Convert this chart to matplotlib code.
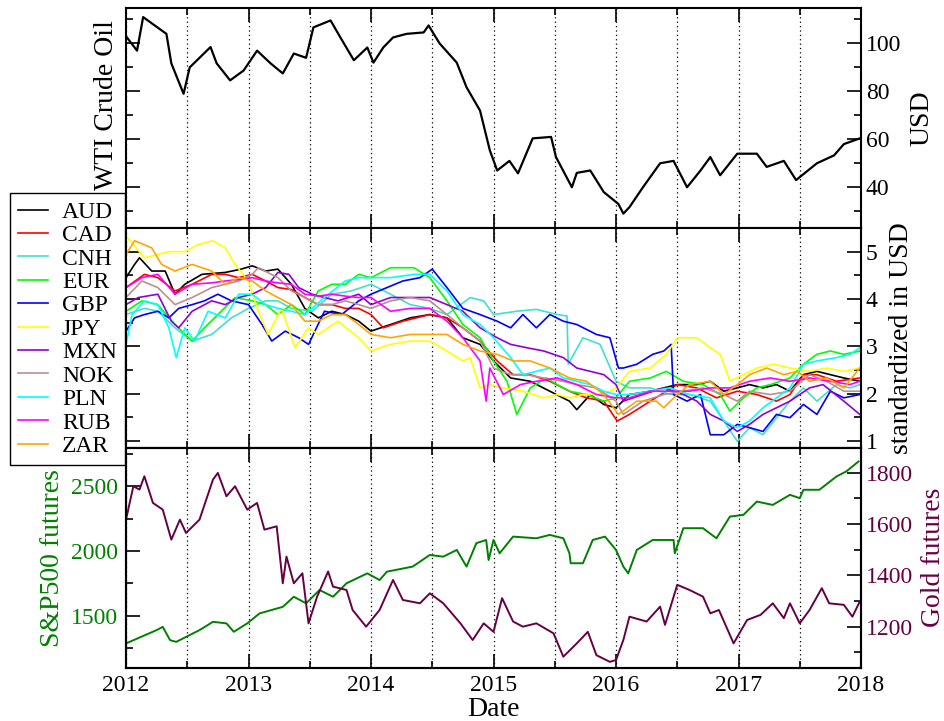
import matplotlib
matplotlib.use("Agg")
import matplotlib.pyplot as plt
from matplotlib.ticker import MultipleLocator


# =========================
# DATA (decimal years)
# =========================
oil_t = [2012.00, 2012.09, 2012.14, 2012.33, 2012.37, 2012.47, 2012.52, 2012.69, 2012.74, 2012.85,
         2012.96, 2013.07, 2013.18, 2013.28, 2013.37, 2013.47, 2013.53, 2013.67, 2013.75, 2013.86,
         2013.97, 2014.02, 2014.10, 2014.18, 2014.29, 2014.43, 2014.47, 2014.56, 2014.70, 2014.78,
         2014.89, 2014.97, 2015.03, 2015.13, 2015.20, 2015.32, 2015.47, 2015.51, 2015.64, 2015.68,
         2015.79, 2015.90, 2016.02, 2016.06, 2016.11, 2016.22, 2016.36, 2016.47, 2016.58, 2016.69,
         2016.77, 2016.85, 2016.99, 2017.15, 2017.23, 2017.37, 2017.47, 2017.64, 2017.78, 2017.86,
         2017.99]
oil_v = [103, 97, 111, 104, 91.7, 79, 90, 98.5, 91.7, 84.6,
         88.7, 97, 91.7, 87.5, 95.8, 94, 106.7, 109.6, 102.5, 93,
         98.3, 92, 98.3, 102.5, 104, 104.6, 107.5, 100, 92, 81.7,
         72, 55.4, 47, 51, 45.8, 60.4, 61, 52.6, 40, 46,
         47, 38, 33, 29, 31.7, 40, 50, 51, 40, 47,
         52.6, 45, 54, 54, 48.5, 51, 43, 50, 53.3, 58,
         60.4]

sp_t = [2012.00, 2012.25, 2012.30, 2012.36, 2012.41, 2012.60, 2012.71, 2012.82, 2012.88, 2012.99,
        2013.09, 2013.28, 2013.37, 2013.47, 2013.58, 2013.69, 2013.80, 2013.97, 2014.07, 2014.13,
        2014.34, 2014.48, 2014.59, 2014.70, 2014.78, 2014.86, 2014.94, 2014.96, 2015.00, 2015.05,
        2015.16, 2015.35, 2015.46, 2015.57, 2015.62, 2015.63, 2015.73, 2015.81, 2015.91, 2016.00,
        2016.06, 2016.10, 2016.17, 2016.30, 2016.47, 2016.48, 2016.55, 2016.71, 2016.82, 2016.93,
        2017.04, 2017.15, 2017.28, 2017.42, 2017.50, 2017.53, 2017.66, 2017.80, 2017.88, 2017.98]
sp_v = [1285, 1388, 1413, 1310, 1297, 1388, 1452, 1440, 1375, 1440,
        1517, 1568, 1646, 1595, 1698, 1646, 1750, 1827, 1775, 1840,
        1879, 1969, 1956, 2008, 1879, 2060, 2085, 1930, 2085, 1982,
        2111, 2098, 2124, 2098, 1982, 1905, 1905, 2085, 2111, 2008,
        1879, 1827, 2008, 2085, 2085, 1982, 2176, 2176, 2098, 2266,
        2279, 2382, 2356, 2434, 2408, 2473, 2473, 2576, 2615, 2692]

gold_t = [2012.00, 2012.06, 2012.11, 2012.15, 2012.22, 2012.30, 2012.37, 2012.44, 2012.49, 2012.60,
          2012.71, 2012.75, 2012.82, 2012.89, 2012.99, 2013.07, 2013.13, 2013.23, 2013.28, 2013.31,
          2013.37, 2013.44, 2013.49, 2013.56, 2013.65, 2013.69, 2013.80, 2013.85, 2013.96, 2014.07,
          2014.18, 2014.26, 2014.40, 2014.48, 2014.59, 2014.73, 2014.83, 2014.92, 2015.00, 2015.07,
          2015.16, 2015.24, 2015.35, 2015.49, 2015.57, 2015.68, 2015.77, 2015.84, 2015.95, 2016.00,
          2016.06, 2016.11, 2016.25, 2016.36, 2016.40, 2016.50, 2016.60, 2016.71, 2016.77, 2016.84,
          2016.96, 2017.07, 2017.18, 2017.28, 2017.37, 2017.42, 2017.50, 2017.58, 2017.68, 2017.74,
          2017.86, 2017.93, 2017.99]
gold_v = [1617, 1747, 1734, 1786, 1682, 1656, 1539, 1617, 1565, 1617,
          1773, 1799, 1708, 1747, 1656, 1682, 1578, 1591, 1369, 1473,
          1369, 1408, 1213, 1317, 1415, 1356, 1343, 1265, 1200, 1265,
          1382, 1304, 1291, 1330, 1291, 1213, 1148, 1213, 1180, 1311,
          1220, 1200, 1213, 1174, 1083, 1135, 1180, 1089, 1063, 1070,
          1148, 1239, 1220, 1278, 1207, 1363, 1343, 1317, 1252, 1265,
          1135, 1226, 1246, 1291, 1233, 1291, 1213, 1265, 1350, 1291,
          1285, 1239, 1298]

# currencies, standardized in USD
aud_t = [2012.00, 2012.07, 2012.11, 2012.21, 2012.32, 2012.40, 2012.48, 2012.62, 2012.81, 2012.94,
         2013.03, 2013.14, 2013.24, 2013.35, 2013.46, 2013.57, 2013.68, 2013.79, 2013.90, 2014.00,
         2014.16, 2014.32, 2014.48, 2014.62, 2014.75, 2014.89, 2015.00, 2015.14, 2015.30, 2015.46,
         2015.62, 2015.68, 2015.79, 2015.90, 2016.00, 2016.11, 2016.28, 2016.50, 2016.66, 2016.77,
         2016.88, 2016.99, 2017.09, 2017.20, 2017.31, 2017.42, 2017.53, 2017.64, 2017.75, 2017.86,
         2017.99]
aud_v = [4.45, 4.73, 4.87, 4.59, 4.59, 4.10, 4.31, 4.52, 4.56, 4.63,
         4.70, 4.59, 4.63, 4.31, 3.80, 3.60, 3.74, 3.67, 3.53, 3.32,
         3.46, 3.60, 3.67, 3.60, 3.18, 3.04, 2.69, 2.33, 2.26, 2.05,
         1.84, 1.66, 1.98, 1.77, 1.70, 1.98, 2.05, 2.19, 2.19, 2.26,
         2.05, 2.12, 2.19, 2.12, 2.19, 2.05, 2.40, 2.47, 2.40, 2.33,
         2.26]

cad_t = [2012.00, 2012.15, 2012.26, 2012.40, 2012.54, 2012.70, 2012.81, 2012.92, 2013.03, 2013.14,
         2013.24, 2013.35, 2013.46, 2013.57, 2013.68, 2013.79, 2013.90, 2014.00, 2014.10, 2014.26,
         2014.48, 2014.62, 2014.75, 2014.89, 2015.03, 2015.16, 2015.30, 2015.46, 2015.62, 2015.76,
         2015.90, 2016.01, 2016.11, 2016.28, 2016.50, 2016.66, 2016.82, 2016.99, 2017.15, 2017.31,
         2017.42, 2017.53, 2017.64, 2017.80, 2017.99]
cad_v = [4.24, 4.52, 4.45, 4.17, 4.31, 4.52, 4.52, 4.45, 4.52, 4.38,
         4.24, 4.20, 4.03, 3.88, 3.88, 3.80, 3.80, 3.67, 3.39, 3.53,
         3.67, 3.60, 3.39, 3.11, 2.69, 2.40, 2.40, 2.26, 2.05, 1.91,
         1.84, 1.42, 1.56, 1.84, 2.19, 2.12, 1.91, 2.05, 1.98, 1.84,
         1.98, 2.40, 2.40, 2.26, 2.33]

cnh_t = [2012.00, 2012.15, 2012.26, 2012.40, 2012.54, 2012.70, 2012.86, 2013.00, 2013.14, 2013.24,
         2013.35, 2013.52, 2013.68, 2013.84, 2014.00, 2014.16, 2014.32, 2014.48, 2014.62, 2014.81,
         2014.92, 2015.00, 2015.19, 2015.35, 2015.52, 2015.60, 2015.61, 2015.73, 2015.87, 2016.00,
         2016.11, 2016.28, 2016.44, 2016.60, 2016.77, 2016.88, 2016.99, 2017.09, 2017.20, 2017.31,
         2017.42, 2017.53, 2017.64, 2017.80, 2017.91, 2017.99]
cnh_v = [3.67, 3.80, 3.74, 3.39, 3.11, 3.25, 3.60, 3.80, 3.96, 3.96,
         3.80, 3.74, 4.10, 4.17, 4.31, 4.10, 3.88, 3.80, 3.67, 4.03,
         3.96, 3.67, 3.74, 3.78, 3.67, 3.64, 2.62, 3.18, 3.04, 2.26,
         2.12, 2.12, 1.98, 1.98, 1.84, 1.42, 0.99, 1.28, 1.13, 1.49,
         1.84, 2.12, 1.84, 2.19, 2.12, 2.19]

eur_t = [2012.00, 2012.13, 2012.26, 2012.40, 2012.54, 2012.64, 2012.75, 2012.89, 2013.03, 2013.14,
         2013.24, 2013.35, 2013.46, 2013.57, 2013.68, 2013.79, 2013.90, 2014.00, 2014.16, 2014.35,
         2014.48, 2014.62, 2014.75, 2014.89, 2015.00, 2015.11, 2015.19, 2015.30, 2015.43, 2015.52,
         2015.62, 2015.76, 2015.90, 2016.00, 2016.11, 2016.28, 2016.41, 2016.55, 2016.71, 2016.85,
         2016.93, 2017.04, 2017.15, 2017.26, 2017.42, 2017.53, 2017.64, 2017.75, 2017.86, 2017.99]
eur_v = [3.74, 3.96, 3.88, 3.46, 3.11, 3.39, 3.67, 4.03, 3.96, 3.88,
         3.67, 3.88, 3.67, 4.17, 4.31, 4.31, 4.52, 4.45, 4.66, 4.66,
         4.45, 3.96, 3.46, 3.18, 2.69, 2.26, 1.56, 2.12, 2.33, 2.19,
         2.05, 1.98, 1.84, 1.91, 2.26, 2.33, 2.47, 2.26, 2.19, 1.98,
         1.63, 1.91, 2.12, 2.19, 2.33, 2.62, 2.83, 2.90, 2.83, 2.90]

gbp_t = [2012.00, 2012.07, 2012.15, 2012.26, 2012.35, 2012.43, 2012.54, 2012.64, 2012.75, 2012.86,
         2013.00, 2013.11, 2013.19, 2013.30, 2013.41, 2013.49, 2013.62, 2013.76, 2013.90, 2014.00,
         2014.13, 2014.26, 2014.40, 2014.50, 2014.62, 2014.75, 2014.89, 2015.03, 2015.14, 2015.24,
         2015.35, 2015.46, 2015.57, 2015.68, 2015.84, 2015.95, 2016.02, 2016.06, 2016.17, 2016.30,
         2016.39, 2016.45, 2016.47, 2016.58, 2016.69, 2016.77, 2016.88, 2016.99, 2017.09, 2017.20,
         2017.31, 2017.42, 2017.53, 2017.64, 2017.75, 2017.86, 2017.99]
gbp_v = [3.32, 3.60, 3.67, 3.74, 3.60, 3.80, 3.88, 3.96, 4.10, 3.96,
         3.88, 3.46, 3.11, 3.32, 3.18, 3.04, 3.74, 3.67, 3.96, 4.10,
         4.24, 4.38, 4.45, 4.63, 4.24, 3.80, 3.67, 3.53, 3.39, 3.67,
         3.39, 3.67, 3.53, 3.46, 3.25, 3.18, 2.54, 2.54, 2.62, 2.83,
         2.90, 3.04, 1.98, 1.84, 1.98, 1.13, 1.13, 1.35, 1.28, 1.20,
         1.56, 1.49, 1.77, 1.56, 2.05, 1.91, 1.98]

jpy_t = [2012.00, 2012.15, 2012.35, 2012.48, 2012.59, 2012.71, 2012.81, 2012.89, 2013.00, 2013.08,
         2013.16, 2013.27, 2013.38, 2013.49, 2013.57, 2013.73, 2013.90, 2014.00, 2014.16, 2014.32,
         2014.48, 2014.62, 2014.75, 2014.81, 2014.89, 2014.97, 2015.08, 2015.24, 2015.41, 2015.52,
         2015.62, 2015.73, 2015.90, 2016.00, 2016.11, 2016.28, 2016.41, 2016.50, 2016.66, 2016.77,
         2016.85, 2016.93, 2017.04, 2017.15, 2017.29, 2017.42, 2017.58, 2017.72, 2017.86, 2017.99]
jpy_v = [5.33, 4.87, 5.00, 5.00, 5.15, 5.23, 5.08, 4.73, 4.38, 3.74,
         3.25, 3.80, 2.97, 3.39, 3.25, 3.53, 3.18, 2.90, 3.04, 3.11,
         3.11, 2.90, 2.69, 2.76, 2.12, 2.19, 2.12, 2.05, 1.91, 1.98,
         1.91, 1.98, 1.98, 2.12, 2.47, 2.54, 2.83, 3.18, 3.18, 2.97,
         2.83, 2.26, 2.40, 2.54, 2.62, 2.54, 2.47, 2.54, 2.47, 2.54]

mxn_t = [2012.00, 2012.10, 2012.26, 2012.37, 2012.43, 2012.54, 2012.70, 2012.81, 2012.92, 2013.03,
         2013.14, 2013.24, 2013.33, 2013.41, 2013.52, 2013.62, 2013.73, 2013.90, 2014.00, 2014.16,
         2014.32, 2014.48, 2014.62, 2014.75, 2014.89, 2015.03, 2015.14, 2015.27, 2015.41, 2015.57,
         2015.68, 2015.79, 2015.90, 2016.00, 2016.06, 2016.22, 2016.39, 2016.55, 2016.66, 2016.77,
         2016.88, 2016.99, 2017.09, 2017.20, 2017.31, 2017.42, 2017.58, 2017.69, 2017.86, 2017.99]
mxn_v = [3.88, 4.03, 4.10, 3.53, 3.39, 3.74, 3.96, 3.88, 4.03, 4.10,
         4.24, 4.56, 4.52, 4.24, 4.10, 4.03, 3.96, 4.10, 3.88, 4.03,
         4.03, 4.03, 3.88, 3.74, 3.39, 3.18, 3.04, 2.97, 2.90, 2.76,
         2.54, 2.47, 2.40, 2.19, 1.84, 1.98, 2.12, 1.98, 1.84, 1.56,
         1.42, 1.20, 1.35, 1.56, 1.70, 1.84, 2.12, 2.19, 1.84, 1.56]

nok_t = [2012.00, 2012.13, 2012.26, 2012.40, 2012.54, 2012.70, 2012.81, 2012.92, 2013.03, 2013.08,
         2013.24, 2013.35, 2013.46, 2013.57, 2013.68, 2013.79, 2013.90, 2014.00, 2014.16, 2014.32,
         2014.48, 2014.62, 2014.75, 2014.89, 2015.00, 2015.14, 2015.27, 2015.41, 2015.57, 2015.68,
         2015.84, 2016.00, 2016.06, 2016.22, 2016.39, 2016.55, 2016.71, 2016.88, 2016.99, 2017.09,
         2017.26, 2017.42, 2017.58, 2017.72, 2017.86, 2017.99]
nok_v = [4.03, 4.38, 4.24, 3.88, 4.03, 4.24, 4.31, 4.38, 4.52, 4.66,
         4.45, 4.17, 4.03, 3.88, 3.88, 3.96, 3.88, 3.80, 3.96, 4.03,
         3.96, 3.67, 3.39, 3.11, 2.54, 2.40, 2.40, 2.33, 2.26, 2.19,
         2.12, 1.84, 1.56, 1.84, 1.98, 2.05, 2.12, 1.98, 1.84, 2.05,
         1.98, 2.05, 2.40, 2.26, 2.05, 2.05]

pln_t = [2012.00, 2012.05, 2012.15, 2012.26, 2012.35, 2012.41, 2012.48, 2012.56, 2012.67, 2012.81,
         2012.92, 2013.03, 2013.14, 2013.24, 2013.35, 2013.46, 2013.62, 2013.79, 2013.90, 2014.00,
         2014.16, 2014.35, 2014.48, 2014.62, 2014.75, 2014.89, 2015.00, 2015.14, 2015.24, 2015.35,
         2015.46, 2015.57, 2015.68, 2015.79, 2015.90, 2016.00, 2016.11, 2016.28, 2016.44, 2016.60,
         2016.77, 2016.88, 2016.99, 2017.09, 2017.20, 2017.31, 2017.42, 2017.53, 2017.64, 2017.80,
         2017.91, 2017.99]
pln_v = [3.04, 3.67, 3.96, 3.88, 3.39, 2.76, 3.39, 3.11, 3.74, 3.60,
         4.10, 4.10, 3.88, 3.80, 3.74, 3.67, 4.03, 4.38, 4.45, 4.45,
         4.45, 4.52, 4.52, 4.17, 3.67, 3.46, 3.18, 2.76, 2.40, 2.47,
         2.54, 2.33, 2.26, 2.19, 2.05, 1.98, 1.98, 2.05, 2.12, 1.98,
         1.91, 1.42, 1.28, 1.42, 1.70, 1.91, 2.12, 2.62, 2.69, 2.76,
         2.83, 2.97]

rub_t = [2012.00, 2012.13, 2012.26, 2012.40, 2012.54, 2012.70, 2012.81, 2012.92, 2013.03, 2013.14,
         2013.24, 2013.35, 2013.46, 2013.57, 2013.68, 2013.79, 2013.90, 2014.00, 2014.16, 2014.32,
         2014.48, 2014.62, 2014.75, 2014.89, 2014.94, 2014.97, 2015.08, 2015.22, 2015.35, 2015.52,
         2015.68, 2015.84, 2016.00, 2016.11, 2016.28, 2016.44, 2016.60, 2016.77, 2016.93, 2017.09,
         2017.26, 2017.42, 2017.58, 2017.75, 2017.91, 2017.99]
rub_v = [4.24, 4.45, 4.52, 4.10, 4.31, 4.34, 4.38, 4.41, 4.45, 4.38,
         4.34, 4.31, 4.10, 4.06, 4.10, 4.06, 4.03, 4.03, 3.74, 3.80,
         3.80, 3.53, 3.18, 2.69, 1.84, 2.54, 1.98, 2.19, 2.26, 2.33,
         2.19, 1.98, 1.91, 1.91, 2.05, 2.05, 2.05, 2.12, 2.12, 2.26,
         2.33, 2.26, 2.33, 2.26, 2.19, 2.26]

zar_t = [2012.00, 2012.07, 2012.21, 2012.29, 2012.40, 2012.54, 2012.70, 2012.81, 2012.92, 2013.03,
         2013.14, 2013.24, 2013.35, 2013.46, 2013.57, 2013.68, 2013.79, 2013.90, 2014.00, 2014.16,
         2014.32, 2014.48, 2014.62, 2014.75, 2014.89, 2015.03, 2015.16, 2015.30, 2015.46, 2015.62,
         2015.76, 2015.90, 2016.02, 2016.17, 2016.33, 2016.39, 2016.50, 2016.60, 2016.77, 2016.88,
         2016.99, 2017.09, 2017.23, 2017.37, 2017.48, 2017.58, 2017.72, 2017.86, 2017.99]
zar_v = [4.94, 5.23, 5.08, 4.73, 4.59, 4.73, 4.59, 4.31, 4.45, 4.38,
         4.17, 4.03, 3.88, 3.53, 3.53, 3.67, 3.67, 3.46, 3.25, 3.18,
         3.25, 3.25, 3.25, 3.04, 2.90, 2.83, 2.69, 2.69, 2.54, 2.33,
         2.26, 1.98, 1.56, 1.84, 1.84, 1.70, 1.98, 2.19, 2.26, 1.98,
         2.19, 2.40, 2.54, 2.40, 2.47, 2.26, 2.33, 2.12, 2.54]

cur_names = ["AUD", "CAD", "CNH", "EUR", "GBP", "JPY", "MXN", "NOK", "PLN", "RUB", "ZAR"]
cur_colors = ["black", "red", "#40E0D0", "#00FF00", "blue", "#FFFF00",
              "#9400D3", "#BC8F8F", "#00FFFF", "#FF00FF", "#FFA500"]

year_labels = ["2012", "2013", "2014", "2015", "2016", "2017", "2018"]

GREEN = "#008000"
MAROON = "#660044"


# =========================
# STYLE
# =========================
plt.rcParams["font.family"] = ["Liberation Serif", "DejaVu Serif"]

TICK = 17
LABEL = 20


def style_axis(ax, bottom_labels=False):
    ax.set_xlim(2012, 2018)
    ax.xaxis.set_major_locator(MultipleLocator(1))
    ax.xaxis.set_minor_locator(MultipleLocator(0.5))
    ax.grid(True, which="both", axis="x", linestyle=(0, (1, 2.5)),
            color="black", linewidth=0.9)
    ax.tick_params(axis="both", which="both", direction="in",
                   top=True, bottom=True, left=True, right=True,
                   labelsize=TICK, width=1.2)
    ax.tick_params(which="major", length=10)
    ax.tick_params(which="minor", length=5)
    if bottom_labels:
        ax.set_xticks([int(y) for y in year_labels])
        ax.set_xticklabels(year_labels)
        ax.tick_params(axis="x", pad=5)
    else:
        ax.tick_params(axis="x", labelbottom=False)
    for s in ax.spines.values():
        s.set_linewidth(1.5)


fig = plt.figure(figsize=(9.45, 7.21), dpi=100)

L = 126 / 945
W = (861 - 126) / 945
H = 220.5 / 721
ax1 = fig.add_axes([L, 1 - 228 / 721, W, H])
ax2 = fig.add_axes([L, 1 - 448 / 721, W, H])
ax3 = fig.add_axes([L, 1 - 668 / 721, W, H])

# =========================
# TOP: WTI crude oil
# =========================
ax1.plot(oil_t, oil_v, color="black", linewidth=1.6)
style_axis(ax1)
ax1.set_ylim(23, 115)
ax1.yaxis.set_major_locator(MultipleLocator(20))
ax1.yaxis.set_minor_locator(MultipleLocator(10))
ax1.tick_params(axis="y", labelleft=False, labelright=True)
ax1.yaxis.set_label_position("right")
ax1.set_ylabel("USD", fontsize=LABEL, labelpad=6)
fig.text(107 / 945, 1 - 105 / 721, "WTI Crude Oil", fontsize=LABEL,
         rotation=90, ha="center", va="center")

# =========================
# MIDDLE: currencies
# =========================
cur_t = [aud_t, cad_t, cnh_t, eur_t, gbp_t, jpy_t, mxn_t, nok_t, pln_t, rub_t, zar_t]
cur_v = [aud_v, cad_v, cnh_v, eur_v, gbp_v, jpy_v, mxn_v, nok_v, pln_v, rub_v, zar_v]
handles = []
for name, col, t, v in zip(cur_names, cur_colors, cur_t, cur_v):
    h, = ax2.plot(t, v, color=col, linewidth=1.2, label=name)
    handles.append(h)
style_axis(ax2)
ax2.set_ylim(0.85, 5.51)
ax2.yaxis.set_major_locator(MultipleLocator(1))
ax2.yaxis.set_minor_locator(MultipleLocator(0.5))
ax2.tick_params(axis="y", labelleft=False, labelright=True)
ax2.yaxis.set_label_position("right")
ax2.set_ylabel("standardized in USD", fontsize=LABEL, labelpad=8)

leg = fig.legend(handles, cur_names, loc="upper left",
                 bbox_to_anchor=(10 / 945, 1 - 193 / 721),
                 fontsize=TICK, frameon=True, fancybox=False,
                 edgecolor="black", framealpha=1, labelspacing=0.08,
                 handlelength=1.25, handletextpad=0.6, borderpad=0.35,
                 borderaxespad=0)
leg.get_frame().set_linewidth(1.0)

# =========================
# BOTTOM: S&P500 and gold
# =========================
ax3.plot(sp_t, sp_v, color=GREEN, linewidth=1.4)
style_axis(ax3, bottom_labels=True)
ax3.set_ylim(1095, 2800)
ax3.yaxis.set_major_locator(MultipleLocator(500))
ax3.yaxis.set_minor_locator(MultipleLocator(250))
ax3.tick_params(axis="y", right=False, labelcolor=GREEN, pad=6)
ax3.set_ylabel("S&P500 futures", fontsize=LABEL, color=GREEN, labelpad=4)
ax3.set_xlabel("Date", fontsize=LABEL, labelpad=1)

ax3g = ax3.twinx()
ax3g.plot(gold_t, gold_v, color=MAROON, linewidth=1.4)
ax3g.set_xlim(2012, 2018)
ax3g.set_ylim(1039, 1898)
ax3g.yaxis.set_major_locator(MultipleLocator(200))
ax3g.yaxis.set_minor_locator(MultipleLocator(100))
ax3g.tick_params(axis="y", which="both", direction="in", labelsize=TICK,
                 labelcolor=MAROON, width=1.2)
ax3g.tick_params(which="major", length=10)
ax3g.tick_params(which="minor", length=5)
ax3g.set_ylabel("Gold futures", fontsize=LABEL, color=MAROON, labelpad=6)
for s in ax3g.spines.values():
    s.set_linewidth(1.5)

fig.savefig("out.png", dpi=100)
